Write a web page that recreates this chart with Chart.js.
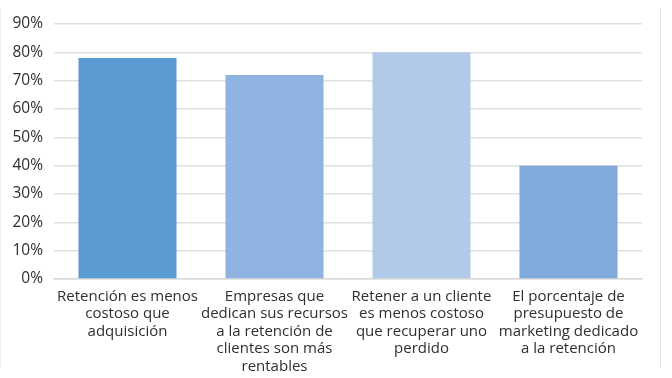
<!DOCTYPE html>
<html>
<head>
<meta charset="utf-8">
<script src="https://cdn.jsdelivr.net/npm/chart.js@4/dist/chart.umd.min.js"></script>
<style>
  html, body { margin: 0; padding: 0; background: #fff; }
  #wrap { position: relative; width: 672px; height: 378px; }
  #frame { position: absolute; left: 0; top: 8px; width: 661px; height: 360px;
           border-right: 1px solid #e4e4e4; border-left: 1px solid #f0f0f0; box-sizing: border-box; }
  canvas { position: absolute; left: 0; top: 0; }
</style>
</head>
<body>
<div id="wrap">
  <div id="frame"></div>
  <canvas id="chart" width="672" height="378"></canvas>
</div>
<script>
const categories = [
  ["Retención es menos", "costoso que", "adquisición"],
  ["Empresas que", "dedican sus recursos", "a la retención de", "clientes son más", "rentables"],
  ["Retener a un cliente", "es menos costoso", "que recuperar uno", "perdido"],
  ["El porcentaje de", "presupuesto de", "marketing dedicado", "a la retención"]
]
const values = [0.78, 0.72, 0.80, 0.40]
const barColors = ["#5b9bd3", "#8fb3e0", "#b1cae9", "#7faadb"]

new Chart(document.getElementById("chart"), {
  type: "bar",
  data: {
    labels: categories,
    datasets: [{
      data: values,
      backgroundColor: barColors,
      borderWidth: 0,
      categoryPercentage: 0.667,
      barPercentage: 1
    }]
  },
  options: {
    responsive: false,
    animation: false,
    layout: { padding: { top: 24, right: 30, left: 0, bottom: 0 } },
    plugins: { legend: { display: false }, tooltip: { enabled: false } },
    scales: {
      x: {
        grid: { display: false },
        border: { color: "#d9d9d9", width: 1.5 },
        ticks: {
          color: "#2f2f2f",
          font: { family: "Open Sans", size: 15, lineHeight: 1.16 },
          maxRotation: 0,
          autoSkip: false,
          padding: 1
        },
        afterFit: (scale) => { scale.height = 99 }
      },
      y: {
        min: 0,
        max: 0.9,
        grid: { color: "#e0e0e0", lineWidth: 1.5, drawTicks: false },
        border: { display: false },
        ticks: {
          stepSize: 0.1,
          color: "#2f2f2f",
          font: { family: "Open Sans", size: 15.5 },
          padding: 11,
          callback: (v) => Math.round(v * 100) + "%"
        },
        afterFit: (scale) => { scale.width = 54 }
      }
    }
  }
})
</script>
</body>
</html>
